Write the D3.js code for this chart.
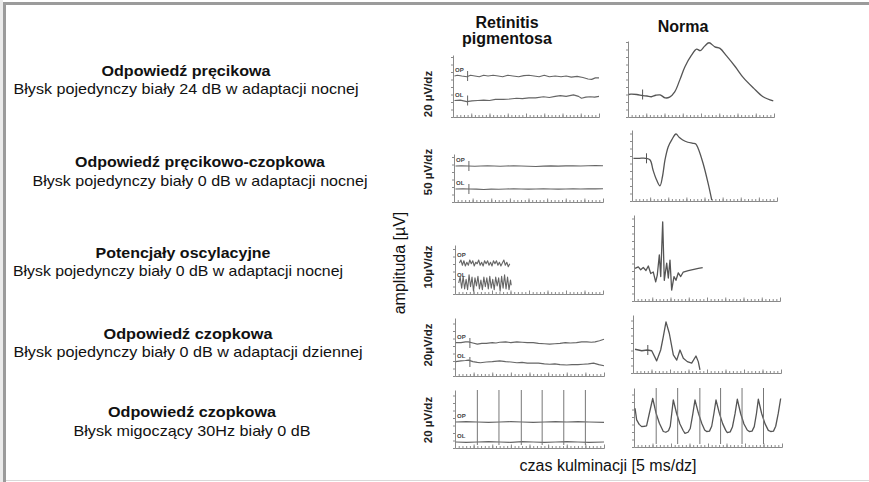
<!DOCTYPE html>
<html>
<head>
<meta charset="utf-8">
<script src="https://cdn.jsdelivr.net/npm/d3@7"></script>
<style>
  body { margin: 0; background: #fff; }
  svg { display: block; font-family: "Liberation Sans", Arial, sans-serif; }
</style>
</head>
<body>
<div id="chart"></div>
<script>
// ---- data ----
const rowTitles = ["Odpowiedź pręcikowa", "Odpowiedź pręcikowo-czopkowa", "Potencjały oscylacyjne", "Odpowiedź czopkowa", "Odpowiedź czopkowa"];
const rowSubtitles = [
  "Błysk pojedynczy biały 24 dB w adaptacji nocnej",
  "Błysk pojedynczy biały 0 dB w adaptacji nocnej",
  "Błysk pojedynczy biały 0 dB w adaptacji nocnej",
  "Błysk pojedynczy biały 0 dB w adaptacji dziennej",
  "Błysk migoczący 30Hz biały 0 dB"
];
const unitLabels = ["20 µV/dz", "50 µV/dz", "10µV/dz", "20µV/dz", "20 µV/dz"];
const uvPerDz = [20, 50, 10, 20, 20];
const msPerDz = 5;
const sweepMs = 200;
const stimulusMs = 20;
const flickerFlashMs = [30, 59, 89, 117, 146, 175];

// traces: [time ms, amplitude µV relative to baseline]
const rp1OP = [[2,0],[6,2],[12,0],[19,-2],[24,2],[30,0],[36,-2],[42,2],[48,0],[55,2],[62,0],[68,-2],[75,2],[82,0],[90,-2],[97,1],[104,2],[111,0],[118,-2],[125,2],[132,-2],[140,0],[148,-2],[155,0],[162,-3],[170,-1],[178,-4],[185,-8],[190,-9],[195,-5],[200,-5]];
const rp1OL = [[2,0],[10,1],[19,-3],[26,-1],[34,0],[42,1],[50,0],[58,3],[69,3],[78,4],[87,6],[95,5],[104,7],[113,7],[124,10],[132,8],[140,11],[147,13],[155,11],[165,15],[172,11],[176,6],[182,9],[188,10],[194,9],[200,11]];
const norm1 = [[1,0],[4,1],[12,0],[20,-3],[26,-4],[32,-6],[38,-2],[44,-1],[51,-9],[57,-7],[64,7],[71,39],[78,74],[87,105],[94,121],[99,117],[105,129],[111,138],[119,127],[126,123],[135,103],[147,74],[158,45],[172,17],[185,-6],[199,-17]];

const rp2OP = [[2,0],[10,1],[19,0],[28,-2],[36,0],[45,2],[54,0],[62,-2],[70,0],[80,2],[90,0],[100,-2],[110,-3],[120,-1],[130,1],[140,-1],[150,1],[160,2],[170,0],[180,2],[190,3],[200,2]];
const rp2OL = [[2,0],[12,1],[20,0],[30,-1],[40,-3],[50,-1],[60,-2],[70,0],[80,1],[90,0],[100,-1],[110,0],[120,1],[130,0],[140,-1],[150,0],[160,1],[170,0],[180,2],[190,1],[200,2]];
const norm2 = [[2,0],[10,0],[19,0],[25,-11],[29,-78],[34,-145],[38.6,-183],[42,-123],[45.5,-11],[50,77],[55,125],[60.7,162],[65,140],[70,122],[77,107],[84,100],[88,95],[91,69],[98,-33],[105,-167],[110,-278]];

const rp3OP = [[6,0],[8,4],[10,-3],[12,3],[14,-4],[16,1],[18,-3],[20,4],[22,-1],[24,3],[26,-4],[28,1],[30,-1],[32,4],[34,-3],[36,1],[38,-4],[40,3],[42,-1],[44,3],[46,-3],[48,1],[50,-4],[52,3],[54,-1],[56,3],[58,-3],[60,1],[62,-4],[64,0],[66,4],[68,-3],[70,1],[72,-5],[74,-1]];
const rp3OL = [[5,0],[7,8],[9,-7],[11,9],[13,-8],[15,5],[17,-9],[19,11],[21,-5],[23,8],[25,-11],[27,7],[29,-4],[31,9],[33,-8],[35,4],[37,-9],[39,8],[41,-5],[43,7],[45,-8],[47,9],[49,-7],[51,5],[53,-9],[55,8],[57,-4],[59,7],[61,-11],[63,9],[65,-7],[67,11],[69,-8],[71,8],[73,-9],[75,4],[76,-3]];
const norm3 = [[1.4,0],[5.9,2],[9.2,-2],[12.7,1],[16.4,-3],[19.6,3],[22.9,-7],[26.4,-5],[29.7,-18],[31.9,-9],[34.7,18],[36.6,-11],[39.3,62],[41.5,-16],[44.8,7],[47,-13],[49.3,11],[51.6,-29],[54.8,-11],[57.5,-16],[60.7,-6],[64,-11],[67.5,-5],[74.4,-3],[83.6,-1],[88.1,0],[94.1,1]];

const rp4OP = [[1,1],[8,1],[14,3],[18,3],[24,0],[30,-3],[36,-1],[42,-1],[50,1],[55,0],[60,2],[68,3],[75,1],[83,3],[90,2],[97,1],[105,1],[112,-1],[120,-2],[127,-3],[134,-2],[141,-1],[148,1],[155,0],[163,1],[170,3],[177,3],[183,2],[188,3],[194,6],[200,10]];
const rp4OL = [[1,1],[8,3],[14,4],[18,5],[24,1],[30,-1],[34,-2],[42,0],[50,1],[60,3],[68,1],[75,0],[83,-2],[90,-1],[97,-3],[105,-3],[112,-3],[120,-5],[127,-6],[134,-5],[141,-7],[150,-8],[157,-7],[165,-7],[172,-6],[179,-5],[186,-3],[193,-7],[200,-10]];
const norm4 = [[2.7,2],[11.8,-2],[19.3,0],[25.3,-2],[32,-29],[37.4,0],[40.9,35],[44.6,75],[49.1,44],[54.5,-13],[59.1,-27],[63.5,0],[68,-22],[73.4,-31],[79.3,-35],[85.1,-16],[88.2,-31],[90.5,-53]];

const rp5OP = [[1,0],[15,1],[30,0],[45,-1],[60,0],[75,1],[90,0],[105,-1],[120,0],[135,1],[150,0],[165,1],[180,0],[200,-1]];
const rp5OL = [[1,0],[15,-1],[30,0],[45,1],[60,0],[75,-1],[90,1],[105,0],[120,-1],[135,0],[150,1],[165,0],[180,-1],[200,0]];
const norm5 = [[1.4,18],[3.6,-13],[7,-25],[10.4,-31],[14,-30],[17,-29],[20.7,4],[25.3,44],
  [29.8,5],[34.3,-22],[39.6,-44],[43,-46],[46.6,-42],[49,-30],[51,4],[53.1,40],
  [57.6,4],[62.1,-24],[66.6,-42],[68.9,-49],[73,-46],[76,-36],[79.5,3],[82.4,40],
  [87,5],[91.5,-22],[95.5,-40],[98.2,-44],[102,-43],[105,-30],[108,4],[110.8,40],
  [115.3,5],[119.8,-23],[124,-41],[126.1,-47],[130,-45],[133,-32],[136.5,3],[139.6,42],
  [144.1,4],[148.6,-24],[153,-40],[155.8,-44],[159.5,-43],[162.5,-31],[165.5,4],[168,42],
  [172.5,4],[177,-23],[181.5,-41],[184.7,-44],[188.5,-43],[191.5,-30],[195,5],[198.2,44]];

const rpTraces = [[rp1OP, rp1OL], [rp2OP, rp2OL], [rp3OP, rp3OL], [rp4OP, rp4OL], [rp5OP, rp5OL]];
const normTraces = [norm1, norm2, norm3, norm4, norm5];

// ---- layout ----
const width = 869, height = 482;
const pxPerDz = 7.5;
const rpBox = [
  {x0: 453, x1: 599, top: 55,  bottom: 117, base: [76, 100.5]},
  {x0: 454, x1: 603, top: 154, bottom: 202, base: [166, 189]},
  {x0: 455, x1: 603, top: 245, bottom: 294, base: [263, 283]},
  {x0: 455, x1: 604, top: 318, bottom: 376, base: [343, 362]},
  {x0: 455, x1: 604, top: 390, bottom: 448, base: [422, 442]}
];
const normBox = [
  {x0: 628, x1: 774, top: 41,  bottom: 117, base: 94.5},
  {x0: 632, x1: 777, top: 130, bottom: 201, base: 158.3},
  {x0: 634, x1: 780, top: 215, bottom: 301, base: 268.3},
  {x0: 633, x1: 781, top: 315, bottom: 373, base: 350},
  {x0: 634, x1: 782, top: 388, bottom: 447, base: 415}
];
const titleCx = [186, 200, 183, 188, 192], titleY = [76, 167, 258, 339, 417], titleW = [169, 250, 175, 169, 168];
const subCx = [186, 200, 178, 188, 192], subY = [94, 186, 276, 357, 436], subW = [345, 335, 330, 349, 237];
const unitCy = [94, 172, 267, 345, 420];

const svg = d3.select("#chart").append("svg")
  .attr("width", width)
  .attr("height", height);

// frame
svg.append("rect").attr("x", 0).attr("y", 0).attr("width", 3).attr("height", height).attr("fill", "#ebebeb");
svg.append("rect").attr("x", 3).attr("y", 2).attr("width", width - 3).attr("height", 3).attr("fill", "#9b9b9b");
svg.append("rect").attr("x", 3).attr("y", 2).attr("width", 3).attr("height", height - 2).attr("fill", "#9b9b9b");
svg.append("line").attr("x1", 6).attr("x2", width).attr("y1", 480.5).attr("y2", 480.5).attr("stroke", "#d9d9d9");

// left descriptions (glyphs squeezed/stretched to the measured widths)
rowTitles.forEach((t, i) => {
  svg.append("text")
    .attr("x", titleCx[i] - titleW[i] / 2).attr("y", titleY[i])
    .attr("textLength", titleW[i]).attr("lengthAdjust", "spacingAndGlyphs")
    .attr("font-size", 15).attr("font-weight", "bold").attr("fill", "#111")
    .text(t);
  svg.append("text")
    .attr("x", subCx[i] - subW[i] / 2).attr("y", subY[i])
    .attr("textLength", subW[i]).attr("lengthAdjust", "spacingAndGlyphs")
    .attr("font-size", 15).attr("fill", "#111")
    .text(rowSubtitles[i]);
});

// column headers
svg.append("text").attr("x", 507).attr("y", 28).attr("text-anchor", "middle")
  .attr("font-size", 16).attr("font-weight", "bold").attr("fill", "#111").text("Retinitis");
svg.append("text").attr("x", 507).attr("y", 44).attr("text-anchor", "middle")
  .attr("font-size", 16).attr("font-weight", "bold").attr("fill", "#111").text("pigmentosa");
svg.append("text").attr("x", 683).attr("y", 32).attr("text-anchor", "middle")
  .attr("font-size", 16).attr("font-weight", "bold").attr("fill", "#111").text("Norma");

// axis titles
svg.append("text").attr("transform", "translate(405,263) rotate(-90)").attr("text-anchor", "middle")
  .attr("font-size", 16).attr("fill", "#111").text("amplituda [µV]");
svg.append("text").attr("x", 608).attr("y", 471).attr("text-anchor", "middle")
  .attr("font-size", 16).attr("fill", "#111").text("czas kulminacji [5 ms/dz]");

unitLabels.forEach((u, i) => {
  svg.append("text").attr("transform", `translate(432,${unitCy[i]}) rotate(-90)`).attr("text-anchor", "middle")
    .attr("font-size", 11.5).attr("font-weight", "bold").attr("fill", "#222").text(u);
});

function drawPanel(box, uvDz) {
  const x = d3.scaleLinear().domain([0, sweepMs]).range([box.x0, box.x1]);
  const hUv = (box.bottom - box.top) / pxPerDz * uvDz;
  const y = d3.scaleLinear().domain([0, hUv]).range([box.bottom, box.top]);
  const g = svg.append("g");
  const gx = g.append("g").attr("transform", `translate(0,${box.bottom})`)
    .call(d3.axisTop(x).tickValues(d3.range(0, sweepMs + 1, msPerDz)).tickSize(2).tickSizeOuter(0).tickFormat(""));
  const gx2 = g.append("g").attr("transform", `translate(0,${box.bottom})`)
    .call(d3.axisTop(x).tickValues(d3.range(0, sweepMs + 1, msPerDz * 5)).tickSize(3.5).tickSizeOuter(0).tickFormat(""));
  const gy = g.append("g").attr("transform", `translate(${box.x0},0)`)
    .call(d3.axisLeft(y).tickValues(d3.range(0, hUv, uvDz)).tickSize(2).tickSizeOuter(0).tickFormat(""));
  [gx, gx2, gy].forEach(a => a.selectAll("path,line").attr("stroke", "#8a8a8a").attr("stroke-width", 1));
  return {x, y, hUv};
}

function traceScale(box, base, uvDz) {
  const k = uvDz / pxPerDz;
  return d3.scaleLinear().domain([-(box.bottom - base) * k, (base - box.top) * k]).range([box.bottom, box.top]);
}

for (let i = 0; i < 5; i++) {
  // retinitis pigmentosa
  const rb = rpBox[i];
  const rp = drawPanel(rb, uvPerDz[i]);
  ["OP", "OL"].forEach((name, j) => {
    const ys = traceScale(rb, rb.base[j], uvPerDz[i]);
    const line = d3.line().x(d => rp.x(d[0])).y(d => ys(d[1]));
    svg.append("path").datum(rpTraces[i][j]).attr("d", line)
      .attr("fill", "none").attr("stroke", "#666").attr("stroke-width", 1.1).attr("stroke-linejoin", "round");
    svg.append("text").attr("x", rb.x0 + 2).attr("y", rb.base[j] - (i === 2 ? 6 : 4))
      .attr("font-size", 6).attr("font-weight", "bold").attr("fill", "#444").text(name);
    if (i !== 2 && i !== 4) {
      svg.append("line").attr("x1", rp.x(stimulusMs)).attr("x2", rp.x(stimulusMs))
        .attr("y1", rb.base[j] - 5).attr("y2", rb.base[j] + 5).attr("stroke", "#666");
    }
  });

  // norma
  const nb = normBox[i];
  const np = drawPanel(nb, uvPerDz[i]);
  const ys = traceScale(nb, nb.base, uvPerDz[i]);
  const curve = (i < 2) ? d3.curveCatmullRom.alpha(0.5) : d3.curveLinear;
  const line = d3.line().x(d => np.x(d[0])).y(d => ys(d[1])).curve(curve);
  svg.append("path").datum(normTraces[i]).attr("d", line)
    .attr("fill", "none").attr("stroke", "#555").attr("stroke-width", 1.3).attr("stroke-linejoin", "round");
  if (i !== 2 && i !== 4) {
    svg.append("line").attr("x1", np.x(stimulusMs)).attr("x2", np.x(stimulusMs))
      .attr("y1", nb.base - 5).attr("y2", nb.base + 5).attr("stroke", "#555");
  }
  if (i === 4) {
    [[rp, rb], [np, nb]].forEach(([p, b]) => {
      svg.append("g").selectAll("line").data(flickerFlashMs).join("line")
        .attr("x1", d => p.x(d)).attr("x2", d => p.x(d))
        .attr("y1", b.top).attr("y2", b.bottom - 3)
        .attr("stroke", "#777").attr("stroke-width", 1);
    });
  }
}
</script>
</body>
</html>
